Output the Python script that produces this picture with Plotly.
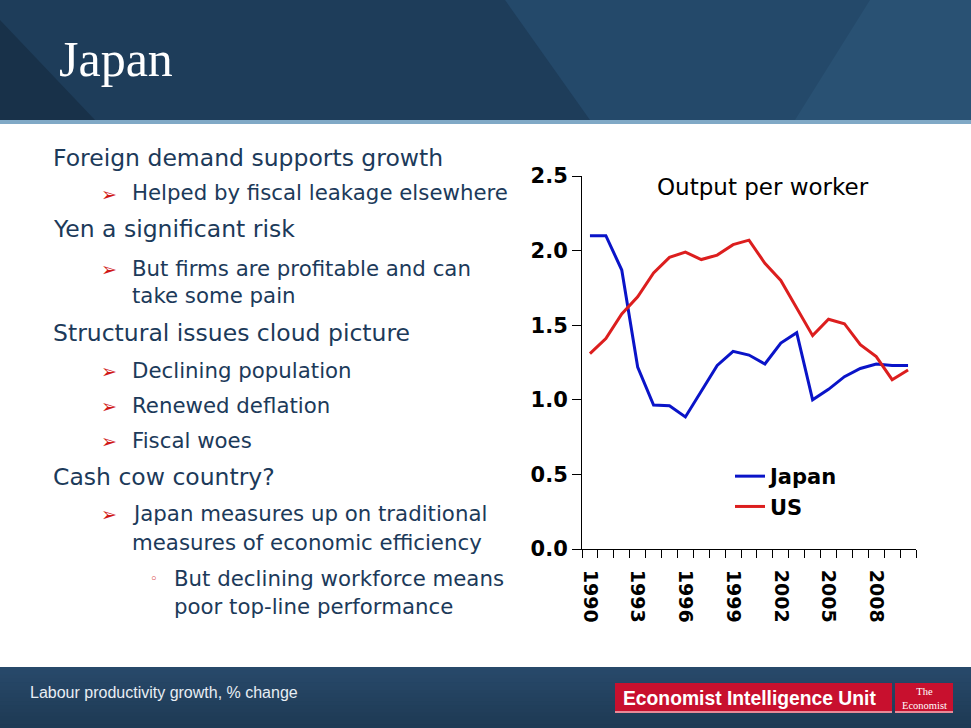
import plotly.graph_objects as go

# ---------------- data ----------------
years = list(range(1990, 2011))
japan = [2.10, 2.10, 1.87, 1.22, 0.965, 0.96, 0.885, 1.06, 1.23, 1.325, 1.30,
         1.24, 1.38, 1.45, 1.00, 1.07, 1.155, 1.21, 1.24, 1.23, 1.23]
us = [1.31, 1.41, 1.575, 1.69, 1.85, 1.955, 1.99, 1.94, 1.97, 2.04, 2.07,
      1.915, 1.80, 1.61, 1.43, 1.54, 1.51, 1.37, 1.29, 1.135, 1.20]
x_tick_years = [1990, 1993, 1996, 1999, 2002, 2005, 2008]
y_tick_values = [0.0, 0.5, 1.0, 1.5, 2.0, 2.5]
y_tick_labels = ["0.0", "0.5", "1.0", "1.5", "2.0", "2.5"]

slide_title = "Japan"
chart_title = "Output per worker"
footer_note = "Labour productivity growth, % change"
bullets = [
    (1, "Foreign demand supports growth"),
    (2, "Helped by fiscal leakage elsewhere"),
    (1, "Yen a significant risk"),
    (2, "But firms are profitable and can"),
    (0, "take some pain"),
    (1, "Structural issues cloud picture"),
    (2, "Declining population"),
    (2, "Renewed deflation"),
    (2, "Fiscal woes"),
    (1, "Cash cow country?"),
    (2, "Japan measures up on traditional"),
    (0, "measures of economic efficiency"),
    (3, "But declining workforce means"),
    (4, "poor top-line performance"),
]

# ---------------- helpers ----------------
W, H = 971, 728


def px(x):
    return x / W


def py(y):
    return 1 - y / H


fig = go.Figure()
fig.add_trace(go.Scatter(x=years, y=japan, mode="lines", name="Japan",
                         line=dict(color="#0a14c8", width=3)))
fig.add_trace(go.Scatter(x=years, y=us, mode="lines", name="US",
                         line=dict(color="#dc1e1e", width=3)))

shapes = []


def rect(x0, y0, x1, y1, color, opacity=1.0):
    shapes.append(dict(type="rect", xref="paper", yref="paper",
                       x0=px(x0), x1=px(x1), y0=py(y1), y1=py(y0),
                       fillcolor=color, opacity=opacity, line=dict(width=0),
                       layer="below"))


def poly(points, color, opacity=1.0):
    path = "M " + " L ".join(f"{px(a):.5f},{py(b):.5f}" for a, b in points) + " Z"
    shapes.append(dict(type="path", xref="paper", yref="paper", path=path,
                       fillcolor=color, opacity=opacity, line=dict(width=0),
                       layer="below"))


def lerp_col(c0, c1, t):
    a = [int(c0[i:i + 2], 16) for i in (1, 3, 5)]
    b = [int(c1[i:i + 2], 16) for i in (1, 3, 5)]
    return "#" + "".join(f"{round(a[k] + (b[k] - a[k]) * t):02x}" for k in range(3))


# header
rect(0, 0, W, 120, "#1e3d5a")
poly([(0, 20), (95, 120), (0, 120)], "#183149")
poly([(505, 0), (W, 0), (W, 120), (590, 120)], "#24496a")
poly([(870, 0), (W, 0), (W, 120), (795, 120)], "#2a5476", 0.8)
rect(0, 120, W, 124, "#80a9c6")

# footer gradient (each strip runs to the bottom so no seams show)
n_steps = 16
fy = 667
step = (H - fy) / n_steps
for i in range(n_steps):
    c = lerp_col("#28496a", "#1e3a54", i / (n_steps - 1))
    rect(0, fy + i * step, W, H, c)

# logos
rect(615, 683, 892, 713, "#c8102e")
rect(615, 711, 892, 713, "#e88a98")
rect(895, 683, 953, 713, "#c8102e")
rect(895, 711, 953, 713, "#e88a98")

annotations = []


def text(x, y, s, size, color, family="DejaVu Sans", anchor="left",
         weight="normal"):
    annotations.append(dict(x=px(x), y=py(y), xref="paper", yref="paper",
                             text=s, showarrow=False, xanchor=anchor,
                             yanchor="middle",
                             font=dict(family=family, size=size, color=color,
                                       weight=weight)))


text(57, 59, slide_title, 50, "white", family="Liberation Serif")

text_color = "#1c3a5a"
bullet_y = [158, 193, 229, 268, 295, 333, 370, 405, 440, 477, 513, 542, 578, 606]
for (lvl, s), y in zip(bullets, bullet_y):
    if lvl == 1:
        text(51, y, s, 23.5, text_color)
    elif lvl == 2:
        text(99, y + 1, "➢", 19, "#d01818")
        text(130, y, s, 21.3, text_color)
    elif lvl == 0:
        text(130, y, s, 21.3, text_color)
    elif lvl == 3:
        text(148, y, "◦", 13, "#d01818")
        text(172, y, s, 21.3, text_color)
    else:
        text(172, y, s, 21.3, text_color)

# chart title
text(763, 187, chart_title, 23, "black", anchor="center")

# footer text
text(28, 692, footer_note, 16, "#e8eef4", family="Liberation Sans")
text(621, 698, "Economist Intelligence Unit", 19.3, "white",
     family="Liberation Sans", weight="bold")
annotations.append(dict(x=px(924), y=py(698), xref="paper", yref="paper",
                        text="The<br>Economist", showarrow=False,
                        xanchor="center", yanchor="middle",
                        font=dict(family="Liberation Serif", size=10.5,
                                  color="white")))

fig.update_layout(
    width=W, height=H, autosize=False,
    margin=dict(l=0, r=0, t=0, b=0, pad=0, autoexpand=False),
    paper_bgcolor="white", plot_bgcolor="white",
    shapes=shapes, annotations=annotations,
    showlegend=True,
    legend=dict(x=px(730), y=py(456), xanchor="left", yanchor="top",
                bgcolor="rgba(0,0,0,0)", borderwidth=0,
                font=dict(family="DejaVu Sans", size=21, color="black",
                          weight="bold"),
                tracegroupgap=0),
    xaxis=dict(domain=[px(582), px(916)], range=[1989.5, 2010.5],
               tickmode="array", tickvals=x_tick_years,
               ticktext=[str(v) for v in x_tick_years],
               tickangle=90, ticks="", ticklabelstandoff=16,
               tickfont=dict(family="DejaVu Sans", size=19, color="black",
                             weight="bold"),
               showline=True, linecolor="black", linewidth=1,
               showgrid=False, zeroline=False, automargin=False,
               minor=dict(tickmode="linear", tick0=1989.5, dtick=1,
                          ticks="outside", ticklen=8, tickwidth=1,
                          tickcolor="black", showgrid=False)),
    yaxis=dict(domain=[py(549), py(176)], range=[0, 2.5],
               tickmode="array", tickvals=y_tick_values,
               ticktext=y_tick_labels, ticks="outside", ticklen=9,
               tickwidth=1, tickcolor="black", automargin=False,
               tickfont=dict(family="DejaVu Sans", size=21, color="black",
                             weight="bold"),
               showline=True, linecolor="black", linewidth=1,
               showgrid=False, zeroline=False),
)

fig.write_html(
    "out.html",
    config={"displayModeBar": False},
    post_script="document.body.style.margin='0';"
                "document.body.style.overflow='hidden';",
)
